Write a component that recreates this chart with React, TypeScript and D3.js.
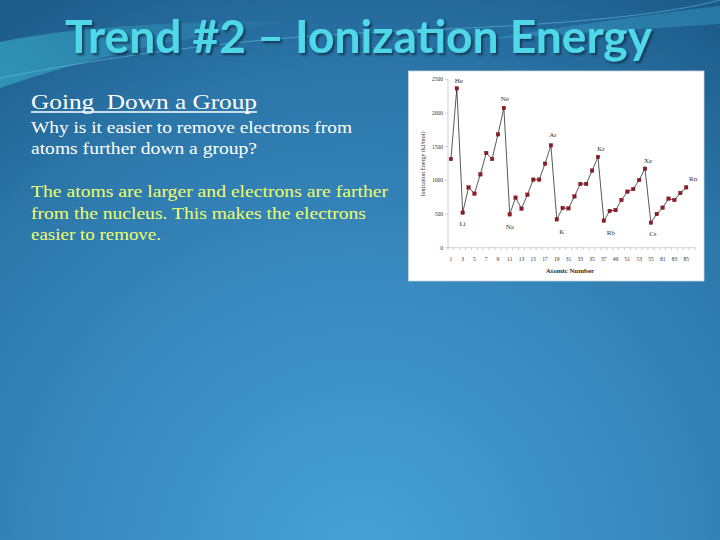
import React, {useEffect, useRef} from 'react';
import * as d3 from 'd3';

// atomic numbers on the category axis (transition metals skipped)
const atomicNumbers = [
  1, 2, 3, 4, 5, 6, 7, 8, 9, 10, 11, 12, 13, 14, 15, 16, 17, 18, 19, 20,
  31, 32, 33, 34, 35, 36, 37, 38,
  49, 50, 51, 52, 53, 54, 55, 56,
  81, 82, 83, 84, 85, 86
];

// first ionization energy, kJ/mol
const ionizationEnergy: (number | null)[] = [
  1317, 2366, 520, 896, 802, 1089, 1406, 1317, 1683, 2074,
  495, 743, 579, 787, 1010, 1010, 1247, 1520, 421, 590,
  584, 762, 946, 946, 1144, 1347, 401, 545,
  559, 708, 832, 871, 1005, 1173, 371, 500,
  594, 728, 708, 812, 896, null
];

const yTicks = [0, 500, 1000, 1500, 2000, 2500];

const elementNames = ['He', 'Li', 'Ne', 'Na', 'Ar', 'K', 'Kr', 'Rb', 'Xe', 'Cs', 'Rn'];
const elementAnchors = [2, 3, 10, 11, 18, 19, 36, 37, 54, 55, 85];

const bodyLines = [
  'Why is it easier to remove electrons from',
  'atoms further down a group?'
];
const answerLines = [
  'The atoms are larger and electrons are farther',
  'from the nucleus. This makes the electrons',
  'easier to remove.'
];

// label placement relative to its point [dx, dy]
const labelOffset: Record<string, [number, number]> = {
  He: [2, -8], Li: [0, 11], Ne: [1, -9], Na: [0, 12], Ar: [2, -11], K: [5, 12],
  Kr: [3, -8], Rb: [7, 12], Xe: [3, -8], Cs: [2, 11], Rn: [7, -9]
};

const App: React.FC = () => {
  const ref = useRef<SVGSVGElement>(null);

  useEffect(() => {
    const svg = d3.select(ref.current);
    svg.selectAll('*').remove();

    const defs = svg.append('defs');
    const bg = defs.append('radialGradient')
    .attr('id', 'bg')
    .attr('gradientUnits', 'userSpaceOnUse')
    .attr('cx', 360).attr('cy', 560).attr('r', 640);
    [[0, '#46a3d7'], [0.45, '#3889bf'], [0.75, '#2c77aa'], [1, '#1d5d8c']]
    .forEach(([o, c]) => bg.append('stop').attr('offset', o as number).attr('stop-color', c as string));

    const swoosh = defs.append('linearGradient').attr('id', 'swoosh')
    .attr('x1', 0).attr('x2', 1).attr('y1', 0).attr('y2', 0);
    swoosh.append('stop').attr('offset', 0).attr('stop-color', '#3fc4d6').attr('stop-opacity', 0.9);
    swoosh.append('stop').attr('offset', 1).attr('stop-color', '#3fc4d6').attr('stop-opacity', 0);

    const shadow = defs.append('filter').attr('id', 'shadow');
    shadow.append('feDropShadow').attr('dx', 2).attr('dy', 2).attr('stdDeviation', 1)
    .attr('flood-color', '#0a2a44').attr('flood-opacity', 0.8);

    svg.append('rect').attr('width', 720).attr('height', 540).attr('fill', 'url(#bg)');

    // decorative swooshes at the top
    svg.append('path')
    .attr('d', 'M0,42 Q110,20 300,22 Q140,40 0,88 Z')
    .attr('fill', 'url(#swoosh)').attr('opacity', 0.55);
    svg.append('path')
    .attr('d', 'M0,78 Q200,38 420,30 T720,0')
    .attr('fill', 'none').attr('stroke', '#6fd0e6').attr('stroke-width', 0.8).attr('opacity', 0.6);
    svg.append('path')
    .attr('d', 'M480,40 Q620,18 720,6 L720,24 Q620,30 480,40 Z')
    .attr('fill', '#3fb0d4').attr('opacity', 0.35);

    // title
    svg.append('text')
    .attr('x', 358.5).attr('y', 53)
    .attr('text-anchor', 'middle')
    .attr('textLength', 587).attr('lengthAdjust', 'spacingAndGlyphs')
    .attr('filter', 'url(#shadow)')
    .style('font-family', 'Lato, "Open Sans", sans-serif')
    .style('font-weight', 700)
    .style('font-size', '45px')
    .style('fill', '#4fd9e8')
    .text('Trend #2 \u2013 Ionization Energy');

    // body text
    const serif = '"Liberation Serif", "DejaVu Serif", serif';
    svg.append('text')
    .attr('x', 31).attr('y', 109)
    .attr('textLength', 226).attr('lengthAdjust', 'spacingAndGlyphs')
    .style('font-family', serif).style('font-size', '22px').style('fill', '#ffffff')
    .attr('xml:space', 'preserve')
    .text('Going  Down a Group');
    svg.append('line').attr('x1', 31).attr('x2', 257).attr('y1', 112).attr('y2', 112)
    .attr('stroke', '#ffffff').attr('stroke-width', 1.3);

    const bodyRight = [352, 257];
    bodyLines.forEach((t, i) => {
      svg.append('text')
      .attr('x', 31).attr('y', 132.5 + i * 21)
      .attr('textLength', bodyRight[i] - 31).attr('lengthAdjust', 'spacingAndGlyphs')
      .style('font-family', serif).style('font-size', '16.5px').style('fill', '#ffffff')
      .text(t);
    });
    const answerRight = [388, 366, 161];
    answerLines.forEach((t, i) => {
      svg.append('text')
      .attr('x', 31).attr('y', 197 + i * 21.5)
      .attr('textLength', answerRight[i] - 31).attr('lengthAdjust', 'spacingAndGlyphs')
      .style('font-family', serif).style('font-size', '16.5px').style('fill', '#f0ff6a')
      .text(t);
    });

    // chart picture
    svg.append('rect')
    .attr('x', 408.5).attr('y', 71).attr('width', 295.5).attr('height', 210)
    .attr('fill', '#ffffff').attr('stroke', '#c8d4dc').attr('stroke-width', 0.8);

    const x = d3.scaleBand<number>()
    .domain(atomicNumbers)
    .range([448, 695]);
    const y = d3.scaleLinear()
    .domain([0, 2500])
    .range([247.7, 79.3]);
    const cx = (n: number) => x(n)! + x.bandwidth() / 2;

    const axisColor = '#b4b4b4';
    const g = svg.append('g');

    // y axis
    g.append('line').attr('x1', 448).attr('x2', 448).attr('y1', y(0)).attr('y2', y(2500))
    .attr('stroke', axisColor).attr('stroke-width', 0.6);
    g.selectAll('.ytick').data(yTicks).join('line')
    .attr('x1', 445).attr('x2', 448).attr('y1', d => y(d)).attr('y2', d => y(d))
    .attr('stroke', axisColor).attr('stroke-width', 0.6);
    g.selectAll('.ylab').data(yTicks).join('text')
    .attr('x', 443).attr('y', d => y(d)).attr('dy', '0.35em')
    .attr('text-anchor', 'end')
    .style('font-family', serif).style('font-size', '5.5px').style('fill', '#333')
    .text(d => d);

    // x axis
    g.append('line').attr('x1', 448).attr('x2', 695).attr('y1', y(0)).attr('y2', y(0))
    .attr('stroke', axisColor).attr('stroke-width', 0.6);
    const bounds = [...atomicNumbers.map(n => x(n)!), 695];
    g.selectAll('.xtick').data(bounds).join('line')
    .attr('x1', d => d).attr('x2', d => d).attr('y1', y(0)).attr('y2', y(0) + 2.5)
    .attr('stroke', axisColor).attr('stroke-width', 0.6);
    g.selectAll('.xlab').data(atomicNumbers.filter((_, i) => i % 2 === 0)).join('text')
    .attr('x', d => cx(d)).attr('y', 260.5)
    .attr('text-anchor', 'middle')
    .style('font-family', serif).style('font-size', '5.5px').style('fill', '#333')
    .text(d => d);

    g.append('text')
    .attr('x', 570).attr('y', 273)
    .attr('text-anchor', 'middle')
    .style('font-family', serif).style('font-size', '7px').style('font-weight', 700).style('fill', '#333')
    .text('Atomic Number');
    g.append('text')
    .attr('transform', 'translate(423,164) rotate(-90)')
    .attr('text-anchor', 'middle').attr('dy', '0.35em')
    .style('font-family', serif).style('font-size', '6px').style('fill', '#333')
    .text('Ionization Energy (kJ/mol)');

    // series
    const pts = atomicNumbers
    .map((n, i) => ({n, v: ionizationEnergy[i]}))
    .filter(d => d.v !== null) as {n: number, v: number}[];

    const line = d3.line<{n: number, v: number}>()
    .x(d => cx(d.n))
    .y(d => y(d.v));
    g.append('path').attr('d', line(pts)!)
    .attr('fill', 'none').attr('stroke', '#111').attr('stroke-width', 0.7);

    const s = 3.6;
    g.selectAll('.pt').data(pts).join('rect')
    .attr('x', d => cx(d.n) - s / 2).attr('y', d => y(d.v) - s / 2)
    .attr('width', s).attr('height', s)
    .attr('fill', '#8e1b24').attr('stroke', '#6a1018').attr('stroke-width', 0.3);

    // element labels
    g.selectAll('.el').data(elementNames).join('text')
    .attr('x', (d, i) => cx(elementAnchors[i]) + labelOffset[d][0])
    .attr('y', (d, i) => {
      const v = ionizationEnergy[atomicNumbers.indexOf(elementAnchors[i])]!;
      return y(v) + labelOffset[d][1];
    })
    .attr('dy', '0.35em')
    .attr('text-anchor', 'middle')
    .style('font-family', serif).style('font-size', '7px').style('fill', '#333')
    .text(d => d);
  }, []);

  return <svg ref={ref} width={720} height={540}
              style={{position: 'absolute', left: 0, top: 0, display: 'block'}}/>;
};

export default App;
